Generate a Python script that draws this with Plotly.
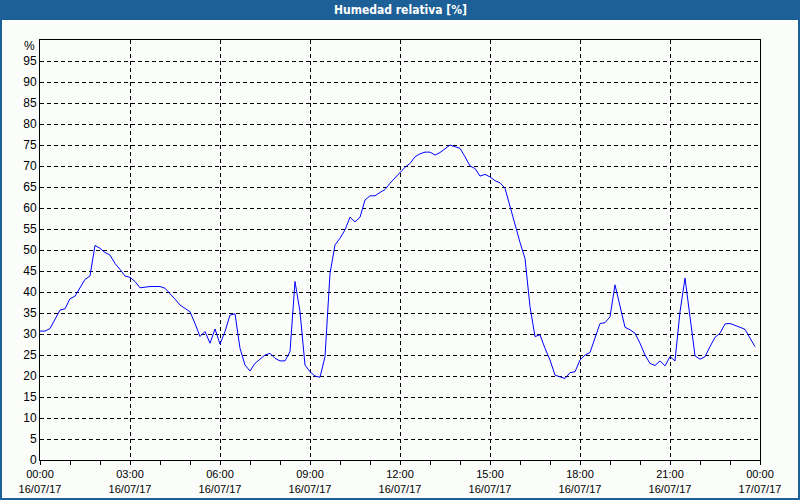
import pandas as pd
import plotly.graph_objects as go

# ---- data ----
start_time = "2017-07-16 00:00"
n_points = 144  # 10-minute samples
humidity = [
    30.7, 30.7, 31.3, 33.7, 35.7, 36.0, 38.4, 39.0, 40.9, 43.0, 43.8, 51.1,
    50.4, 49.4, 48.8, 46.8, 45.4, 43.8, 43.5, 42.5, 41.0, 41.2, 41.3, 41.3,
    41.3, 40.9, 39.7, 38.3, 36.9, 36.1, 35.3, 32.5, 29.4, 30.6, 27.8, 31.2,
    27.6, 30.6, 34.5, 34.8, 26.6, 22.6, 21.2, 23.0, 24.0, 25.0, 25.4, 24.2,
    23.6, 23.6, 25.8, 42.5, 35.3, 22.6, 21.0, 20.0, 19.7, 24.6, 44.4, 51.2,
    52.8, 54.8, 57.8, 56.7, 57.8, 61.9, 62.9, 62.9, 63.7, 64.4, 65.9, 67.2,
    68.3, 69.7, 70.6, 72.2, 72.9, 73.3, 73.3, 72.6, 73.2, 74.2, 75.0, 74.6,
    74.2, 72.2, 70.0, 69.4, 67.6, 68.0, 67.4, 66.5, 66.0, 64.7, 60.3, 55.6,
    51.8, 48.0, 36.5, 29.4, 29.8, 26.6, 23.8, 20.2, 19.8, 19.4, 20.8, 21.0,
    23.8, 25.0, 25.6, 29.0, 32.5, 32.7, 34.1, 41.7, 36.5, 31.6, 31.0, 30.2,
    27.8, 25.0, 23.0, 22.5, 23.6, 22.4, 24.6, 23.6, 35.3, 43.3, 34.1, 24.8,
    24.0, 24.6, 27.0, 29.2, 30.2, 32.4, 32.5, 32.1, 31.6, 31.1, 29.0, 27.0,
]
times = pd.date_range(start_time, periods=n_points, freq="10min")

x_tickvals = pd.date_range("2017-07-16 00:00", "2017-07-17 00:00", freq="3h")
x_ticktext = [
    "00:00<br>16/07/17", "03:00<br>16/07/17", "06:00<br>16/07/17",
    "09:00<br>16/07/17", "12:00<br>16/07/17", "15:00<br>16/07/17",
    "18:00<br>16/07/17", "21:00<br>16/07/17", "00:00<br>17/07/17",
]
y_tickvals = list(range(0, 100, 5))
title_text = "Humedad relativa [%]"
unit_text = "%"

# ---- figure ----
W, H = 800, 500
ml, mr, mt, mb = 40, 40, 40, 40
pw, ph = W - ml - mr, H - mt - mb


def px_x(p):
    return (p - ml) / pw


def px_y(p):
    return (H - mb - p) / ph


BLUE = "#1d5f97"
BG = "#fbfdfb"
FONT = "Liberation Sans, Arial, sans-serif"
TITLE_FONT = "Liberation Sans Narrow, DejaVu Sans Condensed, Liberation Sans, sans-serif"

fig = go.Figure()
fig.add_trace(go.Scatter(
    x=times, y=humidity, mode="lines",
    line=dict(color="#0000ff", width=1), hoverinfo="skip",
))

fig.update_layout(
    width=W, height=H,
    margin=dict(l=ml, r=mr, t=mt, b=mb, pad=0, autoexpand=False),
    paper_bgcolor=BG, plot_bgcolor=BG,
    showlegend=False,
    font=dict(family=FONT, size=11, color="#000000"),
    xaxis=dict(
        type="date", automargin=False,
        range=["2017-07-16 00:00", "2017-07-17 00:00"],
        tickmode="array", tickvals=x_tickvals, ticktext=x_ticktext,
        ticks="outside", ticklen=4, tickcolor="#000000", tickwidth=1,
        minor=dict(dtick=3600000, ticks="outside", ticklen=4,
                   tickcolor="#000000", tickwidth=1, showgrid=False),
        showgrid=True, gridcolor="#000000", gridwidth=1, griddash="4px,3px",
        showline=True, linecolor="#000000", linewidth=1, mirror=True,
        zeroline=False, fixedrange=True,
        tickfont=dict(family=FONT, size=11, color="#000000"),
    ),
    yaxis=dict(
        range=[0, 100], automargin=False,
        tickmode="array", tickvals=y_tickvals,
        ticks="", showgrid=True, gridcolor="#000000", gridwidth=1,
        griddash="4px,3px",
        showline=True, linecolor="#000000", linewidth=1, mirror=True,
        zeroline=False, fixedrange=True,
        tickfont=dict(family=FONT, size=12, color="#000000"),
    ),
)

# title bar and window border
fig.add_shape(type="rect", xref="paper", yref="paper",
              x0=px_x(0), x1=px_x(W), y0=px_y(20), y1=px_y(0),
              fillcolor=BLUE, line=dict(width=0), layer="above")
fig.add_shape(type="rect", xref="paper", yref="paper",
              x0=px_x(0), x1=px_x(2), y0=px_y(H), y1=px_y(0),
              fillcolor=BLUE, line=dict(width=0), layer="above")
fig.add_shape(type="rect", xref="paper", yref="paper",
              x0=px_x(W - 2), x1=px_x(W), y0=px_y(H), y1=px_y(0),
              fillcolor=BLUE, line=dict(width=0), layer="above")
fig.add_shape(type="rect", xref="paper", yref="paper",
              x0=px_x(0), x1=px_x(W), y0=px_y(H), y1=px_y(H - 2),
              fillcolor=BLUE, line=dict(width=0), layer="above")

fig.add_annotation(text="<b>" + title_text + "</b>", xref="paper", yref="paper",
                   x=0.5, y=px_y(10), xanchor="center", yanchor="middle",
                   showarrow=False, font=dict(family=TITLE_FONT, size=12, color="#ffffff"))
fig.add_annotation(text=unit_text, xref="paper", yref="paper",
                   x=px_x(37), y=px_y(46), xanchor="right", yanchor="middle",
                   showarrow=False, font=dict(family=FONT, size=12, color="#000000"))

fig.write_html("out.html")
